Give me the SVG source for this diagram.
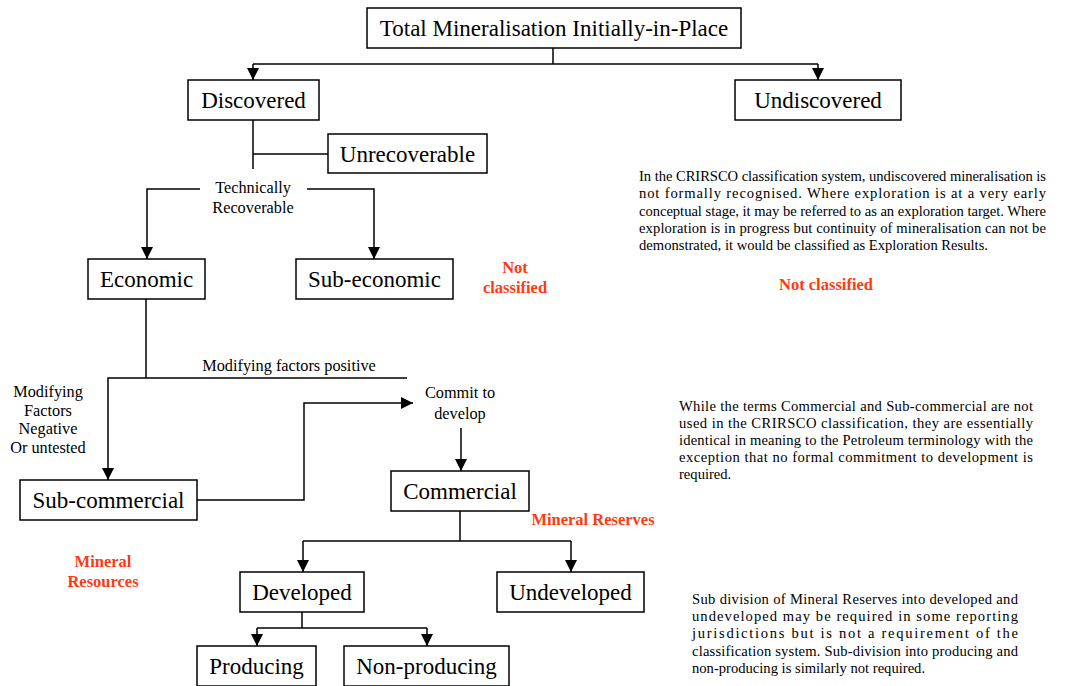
<svg xmlns="http://www.w3.org/2000/svg" width="1065" height="686" viewBox="0 0 1065 686">
<style>
.box{fill:#fff;stroke:#000;stroke-width:1.5}
.bt{font-family:"Liberation Serif","Times New Roman",serif;font-size:23px;fill:#000;text-anchor:middle}
.lb{font-family:"Liberation Serif","Times New Roman",serif;font-size:16.3px;fill:#000;text-anchor:middle}
.red{font-family:"Liberation Serif","Times New Roman",serif;font-size:16.5px;font-weight:bold;fill:#ff3a12;text-anchor:middle}
.para{font-family:"Liberation Serif","Times New Roman",serif;font-size:14.6px;fill:#000;white-space:pre}
.ln{fill:none;stroke:#000;stroke-width:1.5}
</style>
<defs>
<marker id="ah" markerUnits="userSpaceOnUse" markerWidth="12" markerHeight="14" viewBox="0 0 12 14" refX="12" refY="7" orient="auto">
<path d="M0,1 L12,7 L0,13 Z" fill="#000"/>
</marker>
</defs>
<g id="connectors">
<path class="ln" d="M553,48 V64"/>
<path class="ln" d="M253,64 H818"/>
<path class="ln" d="M253,64 V80" marker-end="url(#ah)"/>
<path class="ln" d="M818,64 V80" marker-end="url(#ah)"/>
<path class="ln" d="M253,120 V169"/>
<path class="ln" d="M253,154 H328"/>
<path class="ln" d="M200,189 H147 V259" marker-end="url(#ah)"/>
<path class="ln" d="M307,189 H374 V259" marker-end="url(#ah)"/>
<path class="ln" d="M146,299 V378"/>
<path class="ln" d="M407,378 H108 V480" marker-end="url(#ah)"/>
<path class="ln" d="M197,500 H304 V403 H413" marker-end="url(#ah)"/>
<path class="ln" d="M461,428 V471" marker-end="url(#ah)"/>
<path class="ln" d="M460,511 V541"/>
<path class="ln" d="M303,541 H571"/>
<path class="ln" d="M303,541 V572" marker-end="url(#ah)"/>
<path class="ln" d="M571,541 V572" marker-end="url(#ah)"/>
<path class="ln" d="M302,612 V628"/>
<path class="ln" d="M257,628 H427"/>
<path class="ln" d="M257,628 V646" marker-end="url(#ah)"/>
<path class="ln" d="M427,628 V646" marker-end="url(#ah)"/>
</g>
<g id="n-total"><rect class="box" x="367" y="8" width="374" height="40"/><text class="bt" x="554" y="36">Total Mineralisation Initially-in-Place</text></g>
<g id="n-discovered"><rect class="box" x="188" y="80" width="131" height="40"/><text class="bt" x="253.5" y="108">Discovered</text></g>
<g id="n-undiscovered"><rect class="box" x="735" y="80" width="166" height="40"/><text class="bt" x="818" y="108">Undiscovered</text></g>
<g id="n-unrecoverable"><rect class="box" x="328" y="134" width="159" height="39"/><text class="bt" x="407.5" y="162">Unrecoverable</text></g>
<g id="n-techrec"><text class="lb" x="253" y="193">Technically</text><text class="lb" x="253" y="213">Recoverable</text></g>
<g id="n-economic"><rect class="box" x="88" y="259" width="117" height="40"/><text class="bt" x="146.5" y="287">Economic</text></g>
<g id="n-subeconomic"><rect class="box" x="296" y="259" width="157" height="40"/><text class="bt" x="374.5" y="287">Sub-economic</text></g>
<g id="n-notclass1"><text class="red" x="515" y="273">Not</text><text class="red" x="515" y="293">classified</text></g>
<g id="n-modpos"><text class="lb" x="289" y="371">Modifying factors positive</text></g>
<g id="n-modneg"><text class="lb" x="48" y="397">Modifying</text><text class="lb" x="48" y="416">Factors</text><text class="lb" x="48" y="434">Negative</text><text class="lb" x="48" y="453">Or untested</text></g>
<g id="n-subcommercial"><rect class="box" x="20" y="480" width="177" height="40"/><text class="bt" x="108.5" y="508">Sub-commercial</text></g>
<g id="n-commit"><text class="lb" x="460" y="398">Commit to</text><text class="lb" x="460" y="419">develop</text></g>
<g id="n-commercial"><rect class="box" x="391" y="471" width="138" height="40"/><text class="bt" x="460" y="499">Commercial</text></g>
<g id="n-reserves"><text class="red" x="593" y="525">Mineral Reserves</text></g>
<g id="n-resources"><text class="red" x="103" y="567">Mineral</text><text class="red" x="103" y="587">Resources</text></g>
<g id="n-developed"><rect class="box" x="240" y="572" width="124" height="40"/><text class="bt" x="302" y="600">Developed</text></g>
<g id="n-undeveloped"><rect class="box" x="497" y="572" width="147" height="40"/><text class="bt" x="570.5" y="600">Undeveloped</text></g>
<g id="n-producing"><rect class="box" x="197" y="646" width="119" height="40"/><text class="bt" x="256.5" y="674">Producing</text></g>
<g id="n-nonproducing"><rect class="box" x="344" y="646" width="165" height="40"/><text class="bt" x="426.5" y="674">Non-producing</text></g>
<g id="n-note1" class="para">
<text x="639" y="181" textLength="407" lengthAdjust="spacing">In the CRIRSCO classification system, undiscovered mineralisation is</text>
<text x="639" y="198" textLength="407" lengthAdjust="spacing">not formally recognised.  Where exploration is at a very early</text>
<text x="639" y="215.5" textLength="407" lengthAdjust="spacing">conceptual stage, it may be referred to as an exploration target.  Where</text>
<text x="639" y="233" textLength="407" lengthAdjust="spacing">exploration is in progress but continuity of mineralisation can not be</text>
<text x="639" y="250">demonstrated, it would be classified as Exploration Results.</text>
</g>
<g id="n-notclass2"><text class="red" x="826" y="290">Not classified</text></g>
<g id="n-note2" class="para">
<text x="679" y="411" textLength="354" lengthAdjust="spacing">While the terms Commercial and Sub-commercial are not</text>
<text x="679" y="427.5" textLength="354" lengthAdjust="spacing">used in the CRIRSCO classification, they are essentially</text>
<text x="679" y="444.5" textLength="354" lengthAdjust="spacing">identical in meaning to the Petroleum terminology with the</text>
<text x="679" y="461.5" textLength="354" lengthAdjust="spacing">exception that no formal commitment to development is</text>
<text x="679" y="478.5">required.</text>
</g>
<g id="n-note3" class="para">
<text x="692" y="603.5" textLength="326" lengthAdjust="spacing">Sub division of Mineral Reserves into developed and</text>
<text x="692" y="621" textLength="326" lengthAdjust="spacing">undeveloped may be required in some reporting</text>
<text x="692" y="638" textLength="326" lengthAdjust="spacing">jurisdictions but is not a requirement of the</text>
<text x="692" y="655.5" textLength="326" lengthAdjust="spacing">classification system.  Sub-division into producing and</text>
<text x="692" y="673">non-producing is similarly not required.</text>
</g>
</svg>
